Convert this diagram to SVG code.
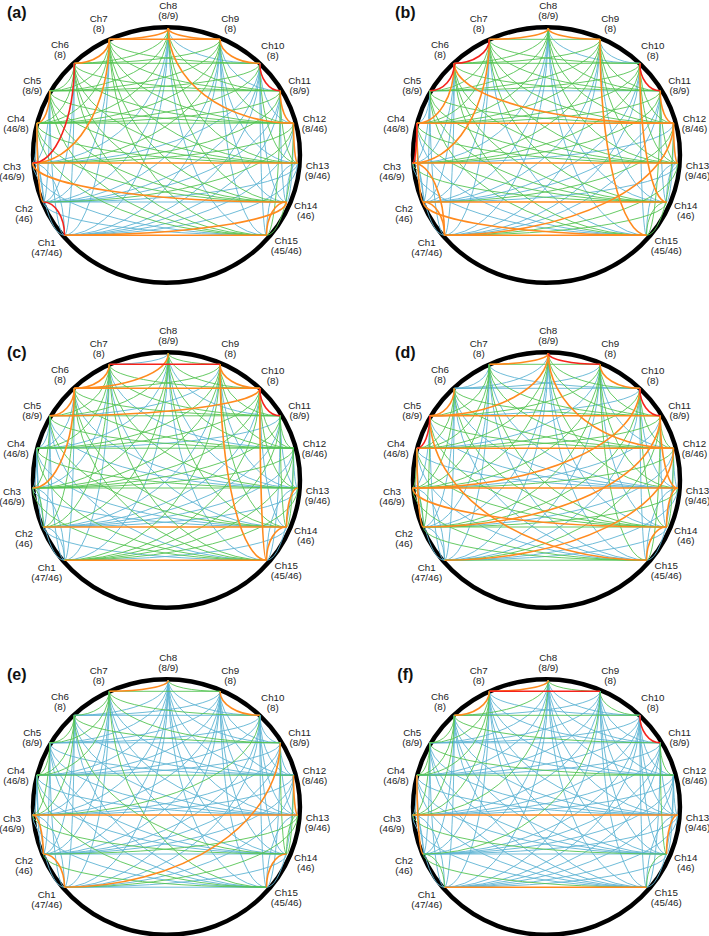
<svg xmlns="http://www.w3.org/2000/svg" width="709" height="936" viewBox="0 0 709 936">
<style>
.b{stroke:#5fb4d4;stroke-width:.9;fill:none}
.g{stroke:#55c452;stroke-width:.9;fill:none}
.o{stroke:#ff8a1e;stroke-width:1.6;fill:none}
.r{stroke:#f5231c;stroke-width:1.6;fill:none}
.ring{fill:none;stroke:#000;stroke-width:4.4}
text{font-family:"Liberation Sans",Arial,sans-serif}
.lb{font-size:9.8px;fill:#222;text-anchor:middle}
.pl{font-size:16px;font-weight:bold;text-anchor:middle;fill:#111}
</style>
<defs>
<path id="e8_1" d="M168.3 28.2A103.8 207 0 0 1 64.5 235.2"/>
<path id="e8_2" d="M168.3 28.2A125 173.8 0 0 1 43.3 202"/>
<path id="e8_3" d="M168.3 28.2A135.6 134.8 0 0 1 32.7 163"/>
<path id="e8_4" d="M168.3 28.2A131.4 95 0 0 1 36.9 123.2"/>
<path id="e8_5" d="M168.3 28.2A118.5 62.6 0 0 1 49.8 90.8"/>
<path id="e8_6" d="M168.3 28.2A94 35.1 0 0 1 74.3 63.3"/>
<path id="e8_7" d="M168.3 28.2A59 11.1 0 0 1 109.3 39.3"/>
<path id="e8_9" d="M168.3 28.2A51.7 11.1 0 0 0 220 39.3"/>
<path id="e8_10" d="M168.3 28.2A91.5 35.1 0 0 0 259.8 63.3"/>
<path id="e8_11" d="M168.3 28.2A111.9 62.6 0 0 0 280.2 90.8"/>
<path id="e8_12" d="M168.3 28.2A125.2 95 0 0 0 293.5 123.2"/>
<path id="e8_13" d="M168.3 28.2A129.4 134.8 0 0 0 297.7 163"/>
<path id="e8_14" d="M168.3 28.2A118.2 173.8 0 0 0 286.5 202"/>
<path id="e8_15" d="M168.3 28.2A98.2 207 0 0 0 266.5 235.2"/>
<path id="e7_1" d="M109.3 39.3A44.8 195.9 0 0 1 64.5 235.2"/>
<path id="e7_2" d="M109.3 39.3A66 162.7 0 0 1 43.3 202"/>
<path id="e7_3" d="M109.3 39.3A76.6 123.7 0 0 1 32.7 163"/>
<path id="e7_4" d="M109.3 39.3A72.4 83.9 0 0 1 36.9 123.2"/>
<path id="e7_5" d="M109.3 39.3A59.5 51.5 0 0 1 49.8 90.8"/>
<path id="e7_6" d="M109.3 39.3A35 24 0 0 1 74.3 63.3"/>
<path id="e7_9" d="M109.3 39.3H220"/>
<path id="e7_10" d="M109.3 39.3A150.5 24 0 0 0 259.8 63.3"/>
<path id="e7_11" d="M109.3 39.3A170.9 51.5 0 0 0 280.2 90.8"/>
<path id="e7_12" d="M109.3 39.3A184.2 83.9 0 0 0 293.5 123.2"/>
<path id="e7_13" d="M109.3 39.3A188.4 123.7 0 0 0 297.7 163"/>
<path id="e7_14" d="M109.3 39.3A177.2 162.7 0 0 0 286.5 202"/>
<path id="e7_15" d="M109.3 39.3A157.2 195.9 0 0 0 266.5 235.2"/>
<path id="e9_1" d="M220 39.3A155.5 195.9 0 0 1 64.5 235.2"/>
<path id="e9_2" d="M220 39.3A176.7 162.7 0 0 1 43.3 202"/>
<path id="e9_3" d="M220 39.3A187.3 123.7 0 0 1 32.7 163"/>
<path id="e9_4" d="M220 39.3A183.1 83.9 0 0 1 36.9 123.2"/>
<path id="e9_5" d="M220 39.3A170.2 51.5 0 0 1 49.8 90.8"/>
<path id="e9_6" d="M220 39.3A145.7 24 0 0 1 74.3 63.3"/>
<path id="e9_10" d="M220 39.3A39.8 24 0 0 0 259.8 63.3"/>
<path id="e9_11" d="M220 39.3A60.2 51.5 0 0 0 280.2 90.8"/>
<path id="e9_12" d="M220 39.3A73.5 83.9 0 0 0 293.5 123.2"/>
<path id="e9_13" d="M220 39.3A77.7 123.7 0 0 0 297.7 163"/>
<path id="e9_14" d="M220 39.3A66.5 162.7 0 0 0 286.5 202"/>
<path id="e9_15" d="M220 39.3A46.5 195.9 0 0 0 266.5 235.2"/>
<path id="e6_1" d="M74.3 63.3A9.8 171.9 0 0 1 64.5 235.2"/>
<path id="e6_2" d="M74.3 63.3A31 138.7 0 0 1 43.3 202"/>
<path id="e6_3" d="M74.3 63.3A41.6 99.7 0 0 1 32.7 163"/>
<path id="e6_4" d="M74.3 63.3A37.4 59.9 0 0 1 36.9 123.2"/>
<path id="e6_5" d="M74.3 63.3A24.5 27.5 0 0 1 49.8 90.8"/>
<path id="e6_10" d="M74.3 63.3H259.8"/>
<path id="e6_11" d="M74.3 63.3A205.9 27.5 0 0 0 280.2 90.8"/>
<path id="e6_12" d="M74.3 63.3A219.2 59.9 0 0 0 293.5 123.2"/>
<path id="e6_13" d="M74.3 63.3A223.4 99.7 0 0 0 297.7 163"/>
<path id="e6_14" d="M74.3 63.3A212.2 138.7 0 0 0 286.5 202"/>
<path id="e6_15" d="M74.3 63.3A192.2 171.9 0 0 0 266.5 235.2"/>
<path id="e10_1" d="M259.8 63.3A195.3 171.9 0 0 1 64.5 235.2"/>
<path id="e10_2" d="M259.8 63.3A216.5 138.7 0 0 1 43.3 202"/>
<path id="e10_3" d="M259.8 63.3A227.1 99.7 0 0 1 32.7 163"/>
<path id="e10_4" d="M259.8 63.3A222.9 59.9 0 0 1 36.9 123.2"/>
<path id="e10_5" d="M259.8 63.3A210 27.5 0 0 1 49.8 90.8"/>
<path id="e10_11" d="M259.8 63.3A20.4 27.5 0 0 0 280.2 90.8"/>
<path id="e10_12" d="M259.8 63.3A33.7 59.9 0 0 0 293.5 123.2"/>
<path id="e10_13" d="M259.8 63.3A37.9 99.7 0 0 0 297.7 163"/>
<path id="e10_14" d="M259.8 63.3A26.7 138.7 0 0 0 286.5 202"/>
<path id="e10_15" d="M259.8 63.3A6.7 171.9 0 0 0 266.5 235.2"/>
<path id="e5_1" d="M49.8 90.8A14.7 144.4 0 0 0 64.5 235.2"/>
<path id="e5_2" d="M49.8 90.8A6.5 111.2 0 0 1 43.3 202"/>
<path id="e5_3" d="M49.8 90.8A17.1 72.2 0 0 1 32.7 163"/>
<path id="e5_4" d="M49.8 90.8A12.9 32.4 0 0 1 36.9 123.2"/>
<path id="e5_11" d="M49.8 90.8H280.2"/>
<path id="e5_12" d="M49.8 90.8A243.7 32.4 0 0 0 293.5 123.2"/>
<path id="e5_13" d="M49.8 90.8A247.9 72.2 0 0 0 297.7 163"/>
<path id="e5_14" d="M49.8 90.8A236.7 111.2 0 0 0 286.5 202"/>
<path id="e5_15" d="M49.8 90.8A216.7 144.4 0 0 0 266.5 235.2"/>
<path id="e11_1" d="M280.2 90.8A215.7 144.4 0 0 1 64.5 235.2"/>
<path id="e11_2" d="M280.2 90.8A236.9 111.2 0 0 1 43.3 202"/>
<path id="e11_3" d="M280.2 90.8A247.5 72.2 0 0 1 32.7 163"/>
<path id="e11_4" d="M280.2 90.8A243.3 32.4 0 0 1 36.9 123.2"/>
<path id="e11_12" d="M280.2 90.8A13.3 32.4 0 0 0 293.5 123.2"/>
<path id="e11_13" d="M280.2 90.8A17.5 72.2 0 0 0 297.7 163"/>
<path id="e11_14" d="M280.2 90.8A6.3 111.2 0 0 0 286.5 202"/>
<path id="e11_15" d="M280.2 90.8A13.7 144.4 0 0 1 266.5 235.2"/>
<path id="e4_1" d="M36.9 123.2A27.6 112 0 0 0 64.5 235.2"/>
<path id="e4_2" d="M36.9 123.2A6.4 78.8 0 0 0 43.3 202"/>
<path id="e4_3" d="M36.9 123.2A4.2 39.8 0 0 1 32.7 163"/>
<path id="e4_12" d="M36.9 123.2H293.5"/>
<path id="e4_13" d="M36.9 123.2A260.8 39.8 0 0 0 297.7 163"/>
<path id="e4_14" d="M36.9 123.2A249.6 78.8 0 0 0 286.5 202"/>
<path id="e4_15" d="M36.9 123.2A229.6 112 0 0 0 266.5 235.2"/>
<path id="e12_1" d="M293.5 123.2A229 112 0 0 1 64.5 235.2"/>
<path id="e12_2" d="M293.5 123.2A250.2 78.8 0 0 1 43.3 202"/>
<path id="e12_3" d="M293.5 123.2A260.8 39.8 0 0 1 32.7 163"/>
<path id="e12_13" d="M293.5 123.2A4.2 39.8 0 0 0 297.7 163"/>
<path id="e12_14" d="M293.5 123.2A7 78.8 0 0 1 286.5 202"/>
<path id="e12_15" d="M293.5 123.2A27 112 0 0 1 266.5 235.2"/>
<path id="e3_1" d="M32.7 163A31.8 72.2 0 0 1 64.5 235.2"/>
<path id="e3_2" d="M32.7 163A10.6 39 0 0 1 43.3 202"/>
<path id="e3_13" d="M32.7 163H297.7"/>
<path id="e3_14" d="M32.7 163A253.8 39 0 0 0 286.5 202"/>
<path id="e3_15" d="M32.7 163A233.8 72.2 0 0 0 266.5 235.2"/>
<path id="e13_1" d="M297.7 163A233.2 72.2 0 0 1 64.5 235.2"/>
<path id="e13_2" d="M297.7 163A254.4 39 0 0 1 43.3 202"/>
<path id="e13_14" d="M297.7 163A11.2 39 0 0 0 286.5 202"/>
<path id="e13_15" d="M297.7 163A31.2 72.2 0 0 0 266.5 235.2"/>
<path id="e2_1" d="M43.3 202A21.2 33.2 0 0 1 64.5 235.2"/>
<path id="e2_14" d="M43.3 202H286.5"/>
<path id="e2_15" d="M43.3 202A223.2 33.2 0 0 0 266.5 235.2"/>
<path id="e14_1" d="M286.5 202A222 33.2 0 0 1 64.5 235.2"/>
<path id="e14_15" d="M286.5 202A20 33.2 0 0 0 266.5 235.2"/>
<path id="e1_15" d="M64.5 235.2H266.5"/>
<g id="labels" class="lb">
<g id="n1"><text x="46.7" y="245.7">Ch1<tspan x="46.7" dy="10">(47/46)</tspan></text></g>
<g id="n2"><text x="24" y="212.3">Ch2<tspan x="24" dy="10">(46)</tspan></text></g>
<g id="n3"><text x="12" y="169.5">Ch3<tspan x="12" dy="10">(46/9)</tspan></text></g>
<g id="n4"><text x="16" y="122.3">Ch4<tspan x="16" dy="10">(46/8)</tspan></text></g>
<g id="n5"><text x="32.3" y="84">Ch5<tspan x="32.3" dy="10">(8/9)</tspan></text></g>
<g id="n6"><text x="60" y="47.5">Ch6<tspan x="60" dy="10">(8)</tspan></text></g>
<g id="n7"><text x="98.7" y="22">Ch7<tspan x="98.7" dy="10">(8)</tspan></text></g>
<g id="n8"><text x="168.3" y="9">Ch8<tspan x="168.3" dy="10">(8/9)</tspan></text></g>
<g id="n9"><text x="230.3" y="21.5">Ch9<tspan x="230.3" dy="10">(8)</tspan></text></g>
<g id="n10"><text x="272.8" y="49">Ch10<tspan x="272.8" dy="10">(8)</tspan></text></g>
<g id="n11"><text x="299.5" y="84">Ch11<tspan x="299.5" dy="10">(8/9)</tspan></text></g>
<g id="n12"><text x="314.5" y="122.3">Ch12<tspan x="314.5" dy="10">(8/46)</tspan></text></g>
<g id="n13"><text x="317.5" y="168.5">Ch13<tspan x="317.5" dy="10">(9/46)</tspan></text></g>
<g id="n14"><text x="305.8" y="209.3">Ch14<tspan x="305.8" dy="10">(46)</tspan></text></g>
<g id="n15"><text x="286.3" y="244">Ch15<tspan x="286.3" dy="10">(45/46)</tspan></text></g>
</g>
</defs>

<g id="panel-a" transform="translate(0 0)">
<ellipse class="ring" cx="166.5" cy="155" rx="133.5" ry="127.8"/>
<g id="a-connectors">
<g class="b"><use href="#e8_1"/><use href="#e8_2"/><use href="#e8_3"/><use href="#e8_10"/><use href="#e8_15"/><use href="#e7_1"/><use href="#e7_2"/><use href="#e9_1"/><use href="#e9_2"/><use href="#e9_11"/><use href="#e9_13"/><use href="#e9_14"/><use href="#e9_15"/><use href="#e6_1"/><use href="#e6_2"/><use href="#e10_1"/><use href="#e10_2"/><use href="#e10_3"/><use href="#e10_12"/><use href="#e10_14"/><use href="#e10_15"/><use href="#e5_1"/><use href="#e5_2"/><use href="#e5_3"/><use href="#e11_1"/><use href="#e11_2"/><use href="#e11_14"/><use href="#e4_1"/><use href="#e4_3"/><use href="#e12_1"/><use href="#e12_14"/><use href="#e3_1"/><use href="#e3_2"/><use href="#e3_15"/><use href="#e13_1"/><use href="#e13_2"/><use href="#e13_14"/><use href="#e13_15"/><use href="#e2_14"/><use href="#e2_15"/></g>
<g class="g"><use href="#e8_4"/><use href="#e8_5"/><use href="#e8_6"/><use href="#e8_11"/><use href="#e8_13"/><use href="#e8_14"/><use href="#e7_4"/><use href="#e7_5"/><use href="#e7_10"/><use href="#e7_11"/><use href="#e7_12"/><use href="#e7_13"/><use href="#e7_14"/><use href="#e7_15"/><use href="#e9_3"/><use href="#e9_4"/><use href="#e9_5"/><use href="#e9_6"/><use href="#e9_12"/><use href="#e6_4"/><use href="#e6_5"/><use href="#e6_10"/><use href="#e6_11"/><use href="#e6_12"/><use href="#e6_13"/><use href="#e6_14"/><use href="#e6_15"/><use href="#e10_4"/><use href="#e10_5"/><use href="#e10_13"/><use href="#e5_11"/><use href="#e5_12"/><use href="#e5_13"/><use href="#e5_14"/><use href="#e5_15"/><use href="#e11_3"/><use href="#e11_4"/><use href="#e11_13"/><use href="#e11_15"/><use href="#e4_12"/><use href="#e4_13"/><use href="#e4_14"/><use href="#e4_15"/><use href="#e12_2"/><use href="#e12_3"/><use href="#e12_15"/></g>
<g class="o"><use href="#e8_7"/><use href="#e8_9"/><use href="#e8_12"/><use href="#e7_3"/><use href="#e7_6"/><use href="#e7_9"/><use href="#e9_10"/><use href="#e5_4"/><use href="#e11_12"/><use href="#e4_2"/><use href="#e12_13"/><use href="#e3_13"/><use href="#e3_14"/><use href="#e14_1"/><use href="#e14_15"/><use href="#e1_15"/></g>
<g class="r"><use href="#e6_3"/><use href="#e10_11"/><use href="#e2_1"/></g>
</g>
<use id="a-nodes" href="#labels"/>
</g>

<g id="panel-b" transform="translate(380 0)">
<ellipse class="ring" cx="166.5" cy="155" rx="133.5" ry="127.8"/>
<g id="b-connectors">
<g class="b"><use href="#e8_1"/><use href="#e8_2"/><use href="#e8_3"/><use href="#e8_10"/><use href="#e8_14"/><use href="#e8_15"/><use href="#e7_1"/><use href="#e7_2"/><use href="#e7_15"/><use href="#e9_1"/><use href="#e9_2"/><use href="#e9_10"/><use href="#e9_14"/><use href="#e6_1"/><use href="#e6_2"/><use href="#e6_3"/><use href="#e10_1"/><use href="#e10_2"/><use href="#e10_15"/><use href="#e5_1"/><use href="#e5_2"/><use href="#e5_3"/><use href="#e5_4"/><use href="#e5_11"/><use href="#e11_1"/><use href="#e11_2"/><use href="#e11_14"/><use href="#e4_1"/><use href="#e4_15"/><use href="#e12_3"/><use href="#e12_14"/><use href="#e3_2"/><use href="#e3_15"/><use href="#e13_2"/><use href="#e13_14"/><use href="#e13_15"/></g>
<g class="g"><use href="#e8_4"/><use href="#e8_5"/><use href="#e8_6"/><use href="#e8_11"/><use href="#e8_12"/><use href="#e8_13"/><use href="#e7_4"/><use href="#e7_5"/><use href="#e7_9"/><use href="#e7_10"/><use href="#e7_11"/><use href="#e7_12"/><use href="#e7_13"/><use href="#e7_14"/><use href="#e9_3"/><use href="#e9_4"/><use href="#e9_5"/><use href="#e9_6"/><use href="#e9_11"/><use href="#e9_12"/><use href="#e9_13"/><use href="#e6_10"/><use href="#e6_11"/><use href="#e6_13"/><use href="#e6_14"/><use href="#e6_15"/><use href="#e10_3"/><use href="#e10_4"/><use href="#e10_5"/><use href="#e10_12"/><use href="#e10_13"/><use href="#e5_12"/><use href="#e5_13"/><use href="#e5_14"/><use href="#e5_15"/><use href="#e11_3"/><use href="#e11_4"/><use href="#e11_13"/><use href="#e11_15"/><use href="#e4_13"/><use href="#e4_14"/><use href="#e12_2"/><use href="#e12_15"/><use href="#e3_14"/><use href="#e13_1"/><use href="#e14_1"/><use href="#e14_15"/></g>
<g class="o"><use href="#e8_7"/><use href="#e8_9"/><use href="#e7_3"/><use href="#e9_15"/><use href="#e6_4"/><use href="#e6_12"/><use href="#e10_14"/><use href="#e11_12"/><use href="#e4_2"/><use href="#e4_12"/><use href="#e12_1"/><use href="#e12_13"/><use href="#e3_1"/><use href="#e3_13"/><use href="#e2_1"/><use href="#e2_14"/><use href="#e2_15"/><use href="#e1_15"/></g>
<g class="r"><use href="#e7_6"/><use href="#e6_5"/><use href="#e10_11"/><use href="#e4_3"/></g>
</g>
<use id="b-nodes" href="#labels"/>
</g>

<g id="panel-c" transform="translate(0 325)">
<ellipse class="ring" cx="166.5" cy="155" rx="133.5" ry="127.8"/>
<g id="c-connectors">
<g class="b"><use href="#e8_1"/><use href="#e8_4"/><use href="#e8_7"/><use href="#e8_11"/><use href="#e8_13"/><use href="#e8_15"/><use href="#e7_1"/><use href="#e7_3"/><use href="#e7_12"/><use href="#e7_14"/><use href="#e9_2"/><use href="#e9_5"/><use href="#e9_13"/><use href="#e6_1"/><use href="#e6_4"/><use href="#e6_13"/><use href="#e10_2"/><use href="#e10_14"/><use href="#e5_1"/><use href="#e5_2"/><use href="#e5_4"/><use href="#e5_13"/><use href="#e5_15"/><use href="#e11_2"/><use href="#e11_4"/><use href="#e11_13"/><use href="#e11_15"/><use href="#e4_1"/><use href="#e4_2"/><use href="#e4_3"/><use href="#e4_14"/><use href="#e12_2"/><use href="#e12_13"/><use href="#e12_15"/><use href="#e3_1"/><use href="#e3_14"/><use href="#e13_2"/><use href="#e13_15"/><use href="#e2_1"/><use href="#e2_15"/><use href="#e14_1"/></g>
<g class="g"><use href="#e8_2"/><use href="#e8_3"/><use href="#e8_5"/><use href="#e8_9"/><use href="#e8_10"/><use href="#e8_12"/><use href="#e8_14"/><use href="#e7_2"/><use href="#e7_4"/><use href="#e7_5"/><use href="#e7_10"/><use href="#e7_11"/><use href="#e7_13"/><use href="#e7_15"/><use href="#e9_1"/><use href="#e9_3"/><use href="#e9_4"/><use href="#e9_6"/><use href="#e9_11"/><use href="#e9_12"/><use href="#e9_14"/><use href="#e6_2"/><use href="#e6_11"/><use href="#e6_12"/><use href="#e6_14"/><use href="#e6_15"/><use href="#e10_1"/><use href="#e10_3"/><use href="#e10_4"/><use href="#e10_12"/><use href="#e10_13"/><use href="#e5_3"/><use href="#e5_11"/><use href="#e5_12"/><use href="#e5_14"/><use href="#e11_1"/><use href="#e11_3"/><use href="#e11_12"/><use href="#e11_14"/><use href="#e4_12"/><use href="#e4_13"/><use href="#e4_15"/><use href="#e12_1"/><use href="#e12_3"/><use href="#e12_14"/><use href="#e3_2"/><use href="#e3_13"/><use href="#e3_15"/><use href="#e13_1"/></g>
<g class="o"><use href="#e8_6"/><use href="#e7_6"/><use href="#e9_10"/><use href="#e9_15"/><use href="#e6_3"/><use href="#e6_5"/><use href="#e6_10"/><use href="#e10_5"/><use href="#e10_15"/><use href="#e13_14"/><use href="#e2_14"/><use href="#e14_15"/><use href="#e1_15"/></g>
<g class="r"><use href="#e7_9"/><use href="#e10_11"/></g>
</g>
<use id="c-nodes" href="#labels"/>
</g>

<g id="panel-d" transform="translate(380 325)">
<ellipse class="ring" cx="166.5" cy="155" rx="133.5" ry="127.8"/>
<g id="d-connectors">
<g class="b"><use href="#e8_1"/><use href="#e8_2"/><use href="#e8_6"/><use href="#e8_14"/><use href="#e8_15"/><use href="#e7_1"/><use href="#e7_2"/><use href="#e7_6"/><use href="#e7_10"/><use href="#e7_13"/><use href="#e7_15"/><use href="#e9_1"/><use href="#e9_4"/><use href="#e9_6"/><use href="#e9_12"/><use href="#e9_14"/><use href="#e6_1"/><use href="#e6_2"/><use href="#e6_10"/><use href="#e6_13"/><use href="#e6_15"/><use href="#e10_1"/><use href="#e10_5"/><use href="#e10_13"/><use href="#e10_15"/><use href="#e5_1"/><use href="#e5_3"/><use href="#e5_13"/><use href="#e11_3"/><use href="#e11_14"/><use href="#e4_1"/><use href="#e4_13"/><use href="#e4_15"/><use href="#e12_2"/><use href="#e12_13"/><use href="#e12_15"/><use href="#e3_1"/><use href="#e13_1"/><use href="#e13_15"/><use href="#e2_1"/><use href="#e14_1"/></g>
<g class="g"><use href="#e8_3"/><use href="#e8_4"/><use href="#e8_10"/><use href="#e8_11"/><use href="#e8_13"/><use href="#e7_3"/><use href="#e7_4"/><use href="#e7_5"/><use href="#e7_9"/><use href="#e7_11"/><use href="#e7_12"/><use href="#e7_14"/><use href="#e9_2"/><use href="#e9_3"/><use href="#e9_5"/><use href="#e9_11"/><use href="#e9_13"/><use href="#e9_15"/><use href="#e6_3"/><use href="#e6_4"/><use href="#e6_11"/><use href="#e6_12"/><use href="#e6_14"/><use href="#e10_2"/><use href="#e10_4"/><use href="#e10_12"/><use href="#e10_14"/><use href="#e5_2"/><use href="#e5_12"/><use href="#e5_14"/><use href="#e11_1"/><use href="#e11_4"/><use href="#e11_12"/><use href="#e11_15"/><use href="#e4_3"/><use href="#e4_14"/><use href="#e12_3"/><use href="#e12_14"/><use href="#e3_2"/><use href="#e3_15"/><use href="#e13_2"/><use href="#e2_14"/><use href="#e2_15"/><use href="#e1_15"/></g>
<g class="o"><use href="#e8_5"/><use href="#e8_7"/><use href="#e8_12"/><use href="#e9_10"/><use href="#e6_5"/><use href="#e10_3"/><use href="#e5_11"/><use href="#e5_15"/><use href="#e11_2"/><use href="#e11_13"/><use href="#e4_2"/><use href="#e4_12"/><use href="#e12_1"/><use href="#e3_13"/><use href="#e3_14"/><use href="#e13_14"/><use href="#e14_15"/></g>
<g class="r"><use href="#e8_9"/><use href="#e10_11"/><use href="#e5_4"/></g>
</g>
<use id="d-nodes" href="#labels"/>
</g>

<g id="panel-e" transform="translate(0 652)">
<ellipse class="ring" cx="166.5" cy="155" rx="133.5" ry="127.8"/>
<g id="e-connectors">
<g class="b"><use href="#e8_1"/><use href="#e8_2"/><use href="#e8_3"/><use href="#e8_4"/><use href="#e8_5"/><use href="#e8_6"/><use href="#e8_10"/><use href="#e8_11"/><use href="#e8_12"/><use href="#e8_13"/><use href="#e8_14"/><use href="#e8_15"/><use href="#e7_1"/><use href="#e7_2"/><use href="#e7_3"/><use href="#e7_12"/><use href="#e7_13"/><use href="#e7_14"/><use href="#e9_1"/><use href="#e9_2"/><use href="#e9_3"/><use href="#e9_4"/><use href="#e9_5"/><use href="#e9_6"/><use href="#e9_11"/><use href="#e9_12"/><use href="#e9_13"/><use href="#e9_14"/><use href="#e9_15"/><use href="#e6_1"/><use href="#e6_2"/><use href="#e6_10"/><use href="#e6_12"/><use href="#e6_13"/><use href="#e6_15"/><use href="#e10_1"/><use href="#e10_2"/><use href="#e10_4"/><use href="#e10_5"/><use href="#e10_11"/><use href="#e10_12"/><use href="#e10_13"/><use href="#e10_14"/><use href="#e10_15"/><use href="#e5_1"/><use href="#e5_2"/><use href="#e5_11"/><use href="#e5_12"/><use href="#e5_13"/><use href="#e5_14"/><use href="#e5_15"/><use href="#e11_2"/><use href="#e11_3"/><use href="#e11_4"/><use href="#e11_12"/><use href="#e11_13"/><use href="#e11_15"/><use href="#e4_1"/><use href="#e4_2"/><use href="#e4_3"/><use href="#e4_13"/><use href="#e4_14"/><use href="#e12_1"/><use href="#e12_2"/><use href="#e12_3"/><use href="#e12_15"/><use href="#e3_1"/><use href="#e3_15"/><use href="#e13_15"/><use href="#e2_14"/><use href="#e14_1"/><use href="#e1_15"/></g>
<g class="g"><use href="#e8_9"/><use href="#e7_4"/><use href="#e7_5"/><use href="#e7_6"/><use href="#e7_9"/><use href="#e7_10"/><use href="#e7_11"/><use href="#e7_15"/><use href="#e6_3"/><use href="#e6_4"/><use href="#e6_5"/><use href="#e6_11"/><use href="#e6_14"/><use href="#e10_3"/><use href="#e5_3"/><use href="#e5_4"/><use href="#e11_14"/><use href="#e4_12"/><use href="#e4_15"/><use href="#e12_14"/><use href="#e3_14"/><use href="#e13_1"/><use href="#e13_2"/><use href="#e13_14"/><use href="#e2_15"/></g>
<g class="o"><use href="#e8_7"/><use href="#e9_10"/><use href="#e11_1"/><use href="#e12_13"/><use href="#e3_2"/><use href="#e3_13"/><use href="#e2_1"/><use href="#e14_15"/></g>
</g>
<use id="e-nodes" href="#labels"/>
</g>

<g id="panel-f" transform="translate(380 652)">
<ellipse class="ring" cx="166.5" cy="155" rx="133.5" ry="127.8"/>
<g id="f-connectors">
<g class="b"><use href="#e8_1"/><use href="#e8_2"/><use href="#e8_4"/><use href="#e8_5"/><use href="#e8_10"/><use href="#e8_11"/><use href="#e8_12"/><use href="#e8_13"/><use href="#e8_14"/><use href="#e8_15"/><use href="#e7_1"/><use href="#e7_2"/><use href="#e7_10"/><use href="#e7_11"/><use href="#e7_12"/><use href="#e7_13"/><use href="#e7_14"/><use href="#e7_15"/><use href="#e9_1"/><use href="#e9_3"/><use href="#e9_4"/><use href="#e9_5"/><use href="#e9_6"/><use href="#e9_11"/><use href="#e9_12"/><use href="#e9_13"/><use href="#e9_14"/><use href="#e9_15"/><use href="#e6_1"/><use href="#e6_2"/><use href="#e6_12"/><use href="#e6_13"/><use href="#e6_14"/><use href="#e6_15"/><use href="#e10_1"/><use href="#e10_2"/><use href="#e10_3"/><use href="#e10_4"/><use href="#e10_5"/><use href="#e10_12"/><use href="#e10_13"/><use href="#e10_14"/><use href="#e10_15"/><use href="#e5_1"/><use href="#e5_2"/><use href="#e5_11"/><use href="#e5_13"/><use href="#e5_14"/><use href="#e5_15"/><use href="#e11_1"/><use href="#e11_2"/><use href="#e11_3"/><use href="#e11_4"/><use href="#e11_13"/><use href="#e11_15"/><use href="#e4_1"/><use href="#e4_3"/><use href="#e4_13"/><use href="#e4_14"/><use href="#e4_15"/><use href="#e12_1"/><use href="#e12_2"/><use href="#e12_3"/><use href="#e12_13"/><use href="#e12_14"/><use href="#e12_15"/><use href="#e3_1"/><use href="#e3_2"/><use href="#e3_15"/><use href="#e13_1"/><use href="#e13_2"/><use href="#e13_15"/><use href="#e2_14"/><use href="#e14_1"/></g>
<g class="g"><use href="#e8_3"/><use href="#e8_6"/><use href="#e8_9"/><use href="#e7_3"/><use href="#e7_4"/><use href="#e7_5"/><use href="#e9_2"/><use href="#e9_10"/><use href="#e6_3"/><use href="#e6_4"/><use href="#e6_5"/><use href="#e6_10"/><use href="#e6_11"/><use href="#e5_3"/><use href="#e5_4"/><use href="#e5_12"/><use href="#e11_12"/><use href="#e11_14"/><use href="#e4_12"/><use href="#e3_14"/><use href="#e2_1"/><use href="#e2_15"/><use href="#e14_15"/></g>
<g class="o"><use href="#e8_7"/><use href="#e7_6"/><use href="#e4_2"/><use href="#e3_13"/><use href="#e13_14"/><use href="#e1_15"/></g>
<g class="r"><use href="#e7_9"/><use href="#e10_11"/></g>
</g>
<use id="f-nodes" href="#labels"/>
</g>

<g id="panel-letters" class="pl">
<text x="16.7" y="17.5">(a)</text>
<text x="405.3" y="17.5">(b)</text>
<text x="16.7" y="357.5">(c)</text>
<text x="405.3" y="357.5">(d)</text>
<text x="16.7" y="679.5">(e)</text>
<text x="405.3" y="679.5">(f)</text>
</g>
</svg>
